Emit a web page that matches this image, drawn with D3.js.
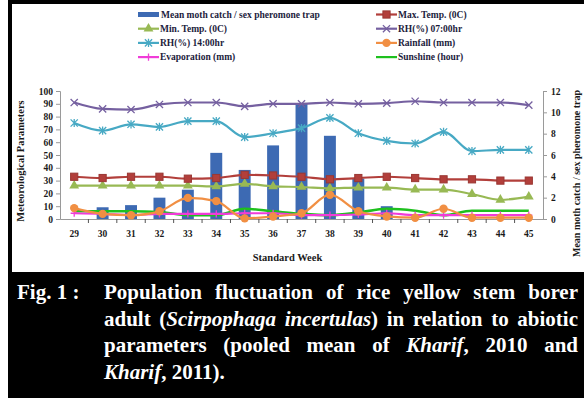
<!DOCTYPE html>
<html><head><meta charset="utf-8">
<script src="https://cdn.jsdelivr.net/npm/d3@7"></script>
<style>
html,body{margin:0;padding:0;background:#fff;}
svg{display:block;}
</style></head>
<body>
<svg id="c" width="584" height="398"></svg>
<script>
// ---------------- data ----------------
const weeks = ["29","30","31","32","33","34","35","36","37","38","39","40","41","42","43","44","45"];
const mothCatch   = [0, 1.1, 1.3, 2.0, 2.75, 6.2, 4.6, 6.9, 10.8, 7.8, 3.8, 1.2, 0, 0, 0, 0, 0];
const maxTemp     = [33, 32, 33, 33, 31.5, 32, 34.5, 34, 33, 31, 32, 33, 32, 31, 31, 30, 30];
const minTemp     = [26, 26, 26, 26, 26, 25.5, 27.5, 25.5, 25, 24, 24.5, 24.5, 23, 23, 19.5, 15, 17.5];
const rh07        = [91, 86, 85.5, 89.5, 91, 91, 88, 90, 90, 91, 90, 90.5, 92, 91, 91, 91, 89];
const rh14        = [75, 69, 74, 72, 76.5, 76.5, 64, 67, 71, 79, 67, 61, 59, 68, 53, 54, 54];
const rainfall    = [8.5, 4, 3, 6, 16.5, 14, 0.5, 2, 4.5, 19, 6, 2, 1, 8, 1, 1, 1];
const evaporation = [4.5, 4, 3, 4, 4, 4, 4.5, 4.5, 3, 3, 3.5, 4.5, 3, 3, 3, 3, 3];
const sunshine    = [6, 6, 6, 5.5, 3, 3, 8, 6, 4, 3, 5, 8, 6.5, 3, 6.5, 6.5, 6.5];
const leftTicks  = [0,10,20,30,40,50,60,70,80,90,100];
const rightTicks = [0,2,4,6,8,10,12];

const seriesLines = [
  {name:"Max. Temp. (0C)", values:maxTemp, color:"#B23F3B", marker:"square"},
  {name:"Min. Temp. (0C)", values:minTemp, color:"#98B954", marker:"triangle"},
  {name:"RH(%) 07:00hr",  values:rh07, color:"#7560A0", marker:"x"},
  {name:"RH(%) 14:00hr",  values:rh14, color:"#47A9C4", marker:"star"},
  {name:"Rainfall (mm)",  values:rainfall, color:"#F18F43", marker:"circle"},
  {name:"Evaporation (mm)", values:evaporation, color:"#F03CD8", marker:"plus"},
  {name:"Sunshine (hour)", values:sunshine, color:"#1EC01E", marker:"none"}
];
const barName = "Mean moth catch / sex pheromone trap";
const barColor = "#3D6AB3";

// ---------------- layout ----------------
const svg = d3.select("#c");
const serif = "'Liberation Serif','Times New Roman',serif";
const plot = {l:60, r:543, t:91, b:219};

svg.append("rect").attr("x",0).attr("y",0).attr("width",584).attr("height",398).attr("fill","#fff");
svg.append("rect").attr("x",8).attr("y",0).attr("width",576).attr("height",398).attr("fill","#000");
svg.append("rect").attr("x",12).attr("y",4).attr("width",572).attr("height",268).attr("fill","#fff");

const x = d3.scaleBand().domain(weeks).range([plot.l, plot.r]);
const yL = d3.scaleLinear().domain([0,100]).range([plot.b, plot.t]);
const yR = d3.scaleLinear().domain([0,12]).range([plot.b, plot.t]);

// bars
const barW = x.bandwidth()*0.42;
svg.append("g").selectAll("rect").data(mothCatch).join("rect")
  .attr("x",(d,i)=>x(weeks[i])+x.bandwidth()/2-barW/2)
  .attr("y",d=>yR(d))
  .attr("width",barW)
  .attr("height",d=>plot.b-yR(d))
  .attr("fill",barColor);

// axes
const axisColor = "#9a9a9a";
const gL = svg.append("g").attr("transform",`translate(${plot.l},0)`)
  .call(d3.axisLeft(yL).tickValues(leftTicks).tickSize(4).tickPadding(3).tickFormat(d3.format("d")));
const gR = svg.append("g").attr("transform",`translate(${plot.r},0)`)
  .call(d3.axisRight(yR).tickValues(rightTicks).tickSize(4).tickPadding(4).tickFormat(d3.format("d")));
const gX = svg.append("g").attr("transform",`translate(0,${plot.b})`)
  .call(d3.axisBottom(x).tickSize(0).tickPadding(11));
[gL,gR,gX].forEach(g=>{
  g.select(".domain").attr("stroke",axisColor);
  g.selectAll(".tick line").attr("stroke",axisColor);
  g.selectAll("text").attr("font-family",serif).attr("font-weight","bold").attr("font-size","9.5px").attr("fill","#1a1a1a");
});
// category boundary ticks
const bounds = weeks.slice(1).map(w=>x(w));
svg.append("g").selectAll("line").data(bounds).join("line")
  .attr("x1",d=>d).attr("x2",d=>d).attr("y1",plot.b).attr("y2",plot.b+4)
  .attr("stroke","#555").attr("stroke-width",1);

// lines
const line = d3.line().x((d,i)=>x(weeks[i])+x.bandwidth()/2).y(d=>yL(d)).curve(d3.curveMonotoneX);

function drawMarker(g, type, color, cx, cy){
  const s = 3.6;
  if(type==="square"){
    g.append("rect").attr("x",cx-s).attr("y",cy-s).attr("width",2*s).attr("height",2*s).attr("fill",color).attr("stroke",d3.color(color).darker(0.4));
  } else if(type==="triangle"){
    g.append("path").attr("d",d3.symbol(d3.symbolTriangle,42)()).attr("transform",`translate(${cx},${cy})`).attr("fill",color);
  } else if(type==="circle"){
    g.append("circle").attr("cx",cx).attr("cy",cy).attr("r",4.2).attr("fill",color);
  } else if(type==="x"){
    g.append("path").attr("d",`M${cx-s},${cy-s}L${cx+s},${cy+s}M${cx-s},${cy+s}L${cx+s},${cy-s}`).attr("stroke",color).attr("stroke-width",1.3);
  } else if(type==="star"){
    g.append("path").attr("d",`M${cx-s},${cy-s}L${cx+s},${cy+s}M${cx-s},${cy+s}L${cx+s},${cy-s}M${cx},${cy-s-0.5}L${cx},${cy+s+0.5}`).attr("stroke",color).attr("stroke-width",1.3);
  } else if(type==="plus"){
    g.append("path").attr("d",`M${cx-s},${cy}L${cx+s},${cy}M${cx},${cy-s}L${cx},${cy+s}`).attr("stroke",color).attr("stroke-width",1.3);
  }
}

const drawOrder = [6,5,4,1,0,3,2];
drawOrder.forEach(k=>{
  const s = seriesLines[k];
  const g = svg.append("g");
  g.append("path").datum(s.values).attr("d",line).attr("fill","none")
    .attr("stroke",s.color).attr("stroke-width", s.marker==="none"?2.6:2.2);
  s.values.forEach((v,i)=>drawMarker(g,s.marker,s.color,x(weeks[i])+x.bandwidth()/2,yL(v)));
});

// axis titles
svg.append("text").attr("transform",`translate(24,${(plot.t+plot.b)/2+6}) rotate(-90)`)
  .attr("text-anchor","middle").attr("font-family",serif).attr("font-weight","bold").attr("font-size","10.5px").attr("fill","#1a1a1a")
  .text("Meteorological Parameters");
svg.append("text").attr("transform",`translate(580,90) rotate(-90)`)
  .attr("text-anchor","end").attr("font-family",serif).attr("font-weight","bold").attr("font-size","10px").attr("fill","#1a1a1a")
  .text("Mean moth catch / sex pheromone trap");
svg.append("text").attr("x",(plot.l+plot.r)/2-14).attr("y",261)
  .attr("text-anchor","middle").attr("font-family",serif).attr("font-weight","bold").attr("font-size","10.5px").attr("fill","#1a1a1a")
  .text("Standard Week");

// legend
const legendItems = [
  {col:0,row:0,name:barName,type:"bar",color:barColor},
  {col:0,row:1,s:seriesLines[1]},
  {col:0,row:2,s:seriesLines[3]},
  {col:0,row:3,s:seriesLines[5]},
  {col:1,row:0,s:seriesLines[0]},
  {col:1,row:1,s:seriesLines[2]},
  {col:1,row:2,s:seriesLines[4]},
  {col:1,row:3,s:seriesLines[6]}
];
const colX = [138, 376];
const lg = svg.append("g");
legendItems.forEach(it=>{
  const x0 = colX[it.col], y0 = 14.5 + it.row*14.2;
  if(it.type==="bar"){
    lg.append("rect").attr("x",x0).attr("y",y0-2.5).attr("width",21).attr("height",5).attr("fill",it.color);
    lg.append("text").attr("x",x0+23).attr("y",y0+3.2).attr("font-family",serif).attr("font-weight","bold").attr("font-size","9.5px").attr("fill","#1c1c3c").text(it.name);
  } else {
    const s = it.s;
    lg.append("line").attr("x1",x0).attr("x2",x0+21).attr("y1",y0).attr("y2",y0).attr("stroke",s.color).attr("stroke-width",2.2);
    drawMarker(lg,s.marker,s.color,x0+10.5,y0);
    lg.append("text").attr("x",x0+22).attr("y",y0+3.2).attr("font-family",serif).attr("font-weight","bold").attr("font-size","9.5px").attr("fill","#1c1c3c").text(s.name);
  }
});

// caption
const capFont = 21, capX = 104, capR = 578;
const capLines = [
  {y:299, parts:[["Population fluctuation of rice yellow stem borer",false]], justify:true},
  {y:325.5, parts:[["adult (",false],["Scirpophaga incertulas",true],[") in relation to abiotic",false]], justify:true},
  {y:352, parts:[["parameters (pooled mean of ",false],["Kharif",true],[", 2010 and",false]], justify:true},
  {y:378.5, parts:[["Kharif",true],[", 2011).",false]], justify:false}
];
svg.append("text").attr("x",17).attr("y",299).attr("font-family",serif).attr("font-weight","bold")
  .attr("font-size",capFont+"px").attr("fill","#fff").attr("xml:space","preserve").text("Fig. 1 :");
capLines.forEach(L=>{
  const t = svg.append("text").attr("x",capX).attr("y",L.y).attr("font-family",serif).attr("font-weight","bold")
    .attr("font-size",capFont+"px").attr("fill","#fff");
  L.parts.forEach(p=>t.append("tspan").attr("font-style",p[1]?"italic":"normal").text(p[0]));
  if(L.justify){
    const full = L.parts.map(p=>p[0]).join("");
    const nSp = (full.match(/ /g)||[]).length;
    const w = t.node().getComputedTextLength();
    const extra = (capR-capX-w)/nSp;
    t.attr("word-spacing",extra);
  }
});
</script>
</body></html>
